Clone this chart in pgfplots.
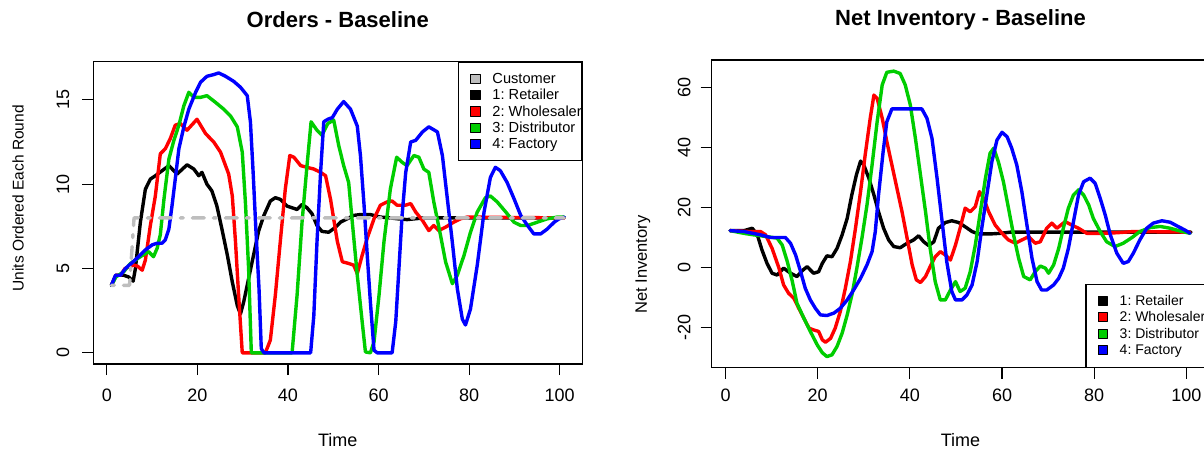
\documentclass[border=0pt]{standalone}
\usepackage{pgfplots}
\pgfplotsset{compat=1.18}
\usepackage{fontspec}
\setmainfont{Liberation Sans}
\definecolor{rgray}{RGB}{190,190,190}
\definecolor{rgreen}{RGB}{0,205,0}
\definecolor{rred}{RGB}{255,0,0}
\definecolor{rblue}{RGB}{0,0,255}
\pgfplotsset{
 rbase/.style={
  scale only axis,
  xmin=-3, xmax=105,
  axis line style={black, line width=1.1pt},
  tick style={black, line width=1.1pt},
  major tick length=11pt,
  tick align=outside,
  tick pos=left,
  xtick={0,20,40,60,80,100},
  ticklabel style={font=\fontsize{18}{21}\selectfont},
  /pgf/number format/assume math mode=true,
  yticklabel style={rotate=90, anchor=south},
  legend cell align=left,
  every axis plot/.append style={line width=3.4pt, line join=round, line cap=round},
 },
 ldg/.style={legend image code/.code={\path[draw=none,fill=none] (0pt,-8.15pt) rectangle (33.7pt,8.15pt);\draw[draw=black, line width=0.9pt, fill=#1] (12pt,-4.7pt) rectangle (21.4pt,4.7pt);}},
 ldgr/.style={legend image code/.code={\path[draw=none,fill=none] (0pt,-8.25pt) rectangle (30.15pt,8.25pt);\draw[draw=black, line width=0.9pt, fill=#1] (8.45pt,-4.5pt) rectangle (17.45pt,4.5pt);}},
 lgd/.style={draw=black, line width=1.1pt, fill=white, inner xsep=0pt, inner ysep=8.5pt, row sep=0pt, column sep=0pt},
}
\begin{document}
\begin{tikzpicture}
\useasboundingbox (0,0) rectangle (1204pt,451pt);
\clip (0,0) rectangle (1204pt,451pt);
% ---------------- Orders ----------------
\begin{axis}[rbase, at={(93.3pt,87pt)}, anchor=south west, width=489pt, height=302.3pt,
  ymin=-0.664, ymax=17.264, ytick={0,5,10,15},
  xticklabel shift=10.5pt, yticklabel shift=9.5pt,
  title={Orders - Baseline}, xlabel={Time}, ylabel={Units Ordered Each Round},
  every axis title/.style={at={(0.5,1.138)}, anchor=center, font=\fontsize{22}{26}\selectfont\bfseries},
  every axis x label/.style={at={(0.5,-0.2514)}, anchor=center, font=\fontsize{18}{21}\selectfont},
  every axis y label/.style={at={(-0.154,0.548)}, rotate=90, anchor=center, font=\fontsize{15.5}{18}\selectfont},
  legend style={lgd, at={(1,1)}, anchor=north east, font=\fontsize{14.6}{17}\selectfont\frenchspacing, nodes={inner sep=0pt}},
]
\addlegendimage{ldg=rgray}\addlegendentry{Customer}
\addlegendimage{ldg=black}\addlegendentry{1: Retailer}
\addlegendimage{ldg=rred}\addlegendentry{2: Wholesaler}
\addlegendimage{ldg=rgreen}\addlegendentry{3: Distributor}
\addlegendimage{ldg=rblue}\addlegendentry{4: Factory}
\addplot[black, forget plot] coordinates {(1,4.0)(2,4.6)(3.7,4.6)(4.8,4.5)(5.8,4.25)(6.3,5.0)(7.4,7.75)(8.5,9.7)(9.6,10.3)(10.7,10.5)(12.2,10.8)(13.7,11.1)(15.5,10.6)(17.7,11.15)(19.2,10.9)(20.3,10.5)(21.0,10.7)(22.1,10.0)(23.2,9.6)(24.3,8.7)(25.4,7.35)(26.6,5.8)(27.7,4.2)(28.8,2.8)(29.5,2.3)(30.2,3.0)(31.3,4.4)(32.4,5.8)(33.5,7.2)(34.6,8.1)(36.1,9.0)(37.2,9.2)(38.3,9.1)(39.8,8.7)(40.9,8.6)(42.0,8.5)(43.1,8.8)(44.2,8.6)(45.3,8.25)(46.4,7.55)(47.5,7.2)(49.0,7.15)(50.5,7.45)(51.6,7.75)(53.1,7.95)(54.5,8.15)(56.0,8.2)(58.2,8.2)(60.4,8.05)(62.6,8.0)(64.1,7.95)(66.3,7.9)(70,8.0)(101,8.0)};
\addplot[rred, forget plot] coordinates {(1,4.0)(2,4.6)(3,4.6)(4,5.0)(5.9,5.2)(6.7,5.15)(7.8,4.9)(8.5,5.5)(9.6,7.55)(10.7,9.3)(11.8,11.8)(12.9,12.1)(14.0,12.7)(15.1,13.5)(16.2,13.6)(17.7,13.2)(19.9,13.85)(21.8,13.0)(23.6,12.5)(25.1,11.9)(26.9,10.6)(27.7,9.3)(28.4,6.6)(29.1,3.4)(29.9,0)(35.0,0)(36.1,0.75)(37.2,3.4)(38.3,6.6)(39.4,9.7)(40.4,11.7)(41.3,11.6)(42.8,11.1)(44.2,11.0)(45.7,10.9)(47.2,10.7)(48.3,10.5)(49.4,9.1)(50.9,6.6)(52.0,5.4)(53.4,5.3)(54.5,5.2)(55.3,4.7)(56.4,5.8)(57.5,6.8)(59.0,7.95)(60.4,8.75)(61.9,8.95)(63,9.0)(64.1,8.75)(65.9,8.75)(67.1,8.85)(68.2,8.35)(69.7,7.85)(71.1,7.25)(72.2,7.55)(73.3,7.25)(74.8,7.45)(76.6,7.75)(78.1,7.95)(79.6,8.05)(101,8.0)};
\addplot[rgreen, forget plot] coordinates {(1,4.0)(2,4.5)(3.7,4.8)(5.2,5.3)(7.4,5.7)(9.2,6.0)(10.3,5.7)(11.1,6.2)(11.8,7.0)(12.6,9.1)(13.7,11.5)(14.8,12.6)(15.9,13.5)(17.0,14.65)(18.1,15.45)(19.2,15.15)(20.7,15.15)(22.1,15.25)(24.0,14.85)(25.8,14.45)(27.3,14.05)(28.8,13.4)(29.9,11.9)(30.6,8.9)(31.3,5.0)(31.9,0)(40.9,0)(42.0,3.4)(43.1,7.75)(44.2,11.1)(45.1,13.7)(46.4,13.2)(47.5,12.9)(48.8,13.6)(50.1,13.8)(51.2,12.3)(52.3,11.1)(53.4,10.1)(54.2,7.75)(55.3,4.6)(56.4,1.8)(57.1,0.05)(58.2,0)(59,0.65)(60.1,3.4)(61.2,6.6)(62.6,9.7)(64.0,11.6)(65.2,11.3)(66.3,11.1)(67.8,11.7)(68.9,11.6)(70.0,10.9)(71.1,10.7)(72.2,8.95)(73.7,6.95)(74.8,5.4)(76.3,4.1)(77.4,4.6)(78.9,5.8)(80.3,7.15)(81.8,8.35)(83.6,9.2)(84.7,9.3)(86.2,8.95)(88.1,8.35)(89.9,7.75)(91.4,7.55)(92.9,7.55)(95.1,7.75)(97.3,7.95)(99.5,8.05)(101,8.05)};
\addplot[rblue, forget plot] coordinates {(1,4.0)(1.9,4.6)(3.0,4.6)(4.1,5.0)(5.6,5.35)(7.0,5.7)(8.5,6.1)(10.0,6.4)(11.1,6.5)(12.2,6.5)(12.9,6.7)(13.7,7.35)(14.4,8.75)(15.1,10.3)(15.9,12.1)(17.0,13.4)(18.1,14.45)(19.6,15.45)(20.7,16.05)(22.1,16.4)(23.6,16.5)(24.7,16.6)(26.2,16.4)(28.0,16.1)(29.5,15.75)(31.0,15.25)(31.7,13.7)(32.3,10.7)(32.9,7.35)(33.6,3.8)(34.1,0.25)(34.7,0)(45.0,0)(45.7,2.2)(46.4,6.55)(47.2,10.7)(47.9,13.7)(48.8,13.85)(49.8,13.95)(50.9,14.45)(52.3,14.9)(53.8,14.45)(55.3,13.45)(56.0,11.7)(56.8,8.75)(57.5,5.8)(58.2,3.0)(59.0,0.15)(59.7,0)(63.0,0)(63.8,1.85)(64.5,5.0)(65.2,8.15)(66.0,10.7)(67.1,12.5)(68.2,12.6)(69.7,13.1)(71.1,13.4)(73.0,13.1)(74.1,11.7)(75.1,9.35)(76.3,6.55)(77.4,3.8)(78.5,2.0)(79.2,1.65)(80.3,2.6)(81.8,5.2)(83.3,8.35)(84.7,10.4)(85.8,11.0)(86.9,10.8)(88.4,10.1)(89.9,9.15)(91.4,8.15)(92.9,7.55)(94.3,7.05)(95.8,7.05)(97.3,7.35)(98.8,7.75)(99.9,7.95)(101,8.05)};
\addplot[rgray, forget plot, dash pattern=on 3pt off 9pt on 12pt off 9pt] coordinates {(1,4)(2,4)(3,4)(4,4)(5,4)(6,8)(101,8)};
\end{axis}
% ---------------- Net Inventory ----------------
\begin{axis}[rbase, at={(711.7pt,83.3pt)}, anchor=south west, width=497.7pt, height=307.7pt,
  ymin=-33.5, ymax=69.1, ytick={-20,0,20,40,60},
  xticklabel shift=7.1pt, yticklabel shift=6.7pt,
  title={Net Inventory - Baseline}, xlabel={Time}, ylabel={Net Inventory},
  every axis title/.style={at={(0.5,1.130)}, anchor=center, font=\fontsize{22}{26}\selectfont\bfseries},
  every axis x label/.style={at={(0.5,-0.235)}, anchor=center, font=\fontsize{18}{21}\selectfont},
  every axis y label/.style={at={(-0.138,0.335)}, rotate=90, anchor=center, font=\fontsize{16.5}{19}\selectfont},
  legend style={lgd, inner xsep=3.55pt, at={(1,0)}, anchor=south east, font=\fontsize{14}{16.5}\selectfont\frenchspacing, nodes={inner sep=0pt}},
]
\addlegendimage{ldgr=black}\addlegendentry{1: Retailer}
\addlegendimage{ldgr=rred}\addlegendentry{2: Wholesaler}
\addlegendimage{ldgr=rgreen}\addlegendentry{3: Distributor}
\addlegendimage{ldgr=rblue}\addlegendentry{4: Factory}
\addplot[black, forget plot] coordinates {(1,12.2)(4,12.2)(5.8,13)(6.9,10.8)(7.9,5.8)(9.0,1.3)(10.1,-2.0)(11.2,-2.6)(12.6,-0.3)(14.1,-2.0)(15.5,-3.1)(16.6,-1.2)(17.7,0.2)(19.1,-2.0)(20.2,-1.5)(21.0,1.3)(22.0,3.8)(23.1,3.5)(24.2,6.3)(25.3,10.8)(26.4,16.3)(27.4,24.1)(28.4,30.8)(29.3,35.4)(30.0,34.1)(31.1,29.7)(32.2,24.1)(33.2,18.5)(34.3,13.0)(35.4,9.1)(36.5,6.9)(37.9,6.5)(39.4,8.0)(40.8,9.1)(41.9,10.5)(43.0,8.5)(44.1,7.2)(45.2,8.5)(46.2,13.0)(47.7,14.9)(49.1,15.5)(50.6,14.9)(52.0,13.5)(53.5,11.9)(54.9,11.1)(57.4,11.1)(59.6,11.3)(61.8,11.7)(101,11.7)};
\addplot[rred, forget plot] coordinates {(1,12.2)(5.4,11.9)(7.6,11.9)(8.7,10.8)(10.1,6.3)(11.6,-0.3)(12.6,-5.9)(13.7,-8.7)(14.8,-10.3)(15.9,-13.7)(17.0,-17.0)(18.1,-20.3)(19.1,-20.9)(20.2,-21.4)(21.0,-24.2)(21.7,-25.0)(22.8,-23.7)(23.8,-20.3)(24.9,-14.8)(26.0,-7.0)(27.1,1.9)(28.2,13.0)(29.3,25.2)(30.3,37.4)(31.4,49.7)(32.2,57.4)(32.9,56.3)(34.0,49.7)(35.0,41.9)(36.1,34.1)(37.2,26.3)(38.3,18.5)(39.4,9.7)(40.5,0.8)(41.4,-4.2)(42.3,-5.1)(43.4,-3.1)(44.4,0.2)(45.5,3.5)(46.6,5.2)(47.7,4.1)(48.8,2.4)(49.9,7.4)(50.9,13.0)(52.0,19.7)(53.1,18.5)(54.2,20.2)(55.1,25.2)(56.0,23.0)(57.1,18.5)(58.5,14.1)(60.0,11.3)(61.4,9.1)(62.9,8.0)(64.3,9.1)(65.8,10.2)(67.2,8.0)(68.3,8.5)(69.7,13.0)(70.8,14.7)(71.9,13.0)(73.7,15.2)(75.1,14.1)(76.6,13.0)(78.4,11.3)(81.3,11.3)(84.9,11.5)(88.5,11.9)(100.8,11.7)};
\addplot[rgreen, forget plot] coordinates {(1,12.2)(4,11.3)(6.1,10.8)(9.0,10.2)(11.2,9.7)(12.3,7.4)(13.4,1.9)(14.5,-4.8)(15.5,-12.0)(17.0,-17.0)(18.4,-21.4)(19.9,-25.9)(21.0,-28.5)(22.0,-29.8)(23.1,-29.2)(24.2,-26.4)(25.3,-22.0)(26.4,-15.9)(27.5,-8.7)(28.5,-0.3)(29.6,9.7)(30.7,20.8)(31.8,34.1)(32.9,48.5)(34.0,60.8)(35.0,65.0)(36.5,65.4)(37.9,64.6)(39.0,60.8)(40.1,54.1)(41.2,43.0)(42.3,30.8)(43.4,18.5)(44.4,6.3)(45.5,-4.8)(46.6,-10.9)(47.7,-10.9)(48.8,-7.6)(49.9,-4.8)(50.9,-8.1)(52.0,-7.0)(53.1,-1.5)(54.2,7.4)(55.3,18.5)(56.4,29.7)(57.4,38.0)(58.2,39.7)(59.2,35.2)(60.3,28.5)(61.4,19.7)(62.5,10.8)(63.6,3.0)(64.7,-3.1)(66.1,-4.2)(67.2,-1.5)(68.3,0.4)(69.4,-0.3)(70.1,-2.0)(71.2,0.8)(72.3,6.3)(73.3,13.0)(74.4,19.7)(75.5,24.1)(76.6,25.8)(77.7,24.1)(78.8,20.8)(79.8,16.3)(81.3,11.9)(82.7,8.5)(84.5,6.9)(86.3,8.0)(88.2,9.9)(89.9,11.9)(92.1,13.2)(94.3,13.6)(96.5,13.0)(98.6,12.1)(100.8,11.3)};
\addplot[rblue, forget plot] coordinates {(1,12.2)(4,11.9)(7.6,10.8)(9.8,9.9)(11.2,9.9)(13.0,9.9)(14.1,8.0)(15.2,4.1)(16.3,-1.5)(17.3,-7.0)(18.4,-10.9)(19.5,-13.7)(20.6,-15.9)(22.0,-16.1)(23.5,-15.3)(24.9,-13.7)(26.4,-10.9)(27.8,-7.6)(29.3,-3.7)(30.7,0.8)(31.8,5.2)(32.5,11.9)(33.2,24.1)(34.2,38.5)(35.0,48.5)(36.1,52.8)(37.9,52.8)(40.1,52.8)(42.6,52.8)(43.7,49.7)(44.8,43.0)(45.9,29.7)(47.0,15.2)(48.0,1.9)(49.1,-8.1)(49.9,-10.9)(51.3,-10.9)(52.4,-9.2)(53.5,-5.9)(54.6,1.9)(55.6,13.0)(56.7,24.1)(57.8,35.2)(58.9,42.4)(60.0,45.0)(61.1,43.5)(62.1,39.7)(63.2,34.1)(64.3,25.2)(65.4,14.1)(66.5,3.0)(67.6,-4.8)(68.6,-7.6)(69.7,-7.6)(71.2,-5.9)(72.3,-3.7)(73.3,-0.3)(74.4,6.3)(75.5,15.2)(76.6,24.1)(77.7,28.5)(79.1,29.7)(80.2,28.0)(81.3,23.0)(82.4,17.4)(83.5,10.8)(84.9,4.7)(86.3,1.3)(87.4,1.9)(88.5,4.7)(89.9,9.1)(91.4,13.0)(92.8,14.7)(94.7,15.5)(96.5,15.0)(98.3,13.5)(99.7,12.4)(100.8,11.3)};
\end{axis}
\end{tikzpicture}
\end{document}
